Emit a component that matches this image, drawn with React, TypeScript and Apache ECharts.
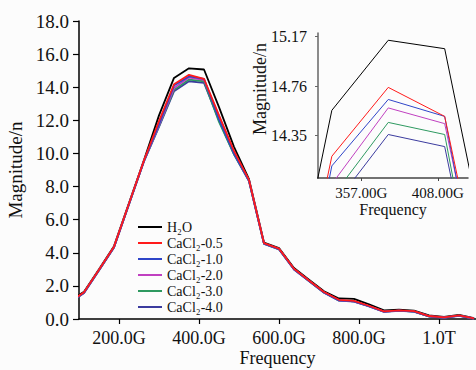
import React, { useEffect, useRef } from "react";
import * as echarts from "echarts";

// Frequency samples (GHz)
const FREQ = [75, 112.5, 150, 187.5, 225, 262.5, 300, 337.5, 375, 412.5, 450, 487.5, 525, 562.5, 600, 637.5, 675, 712.5, 750, 787.5, 825, 862.5, 900, 937.5, 975, 1012.5, 1050, 1087.5];

const H2O = [1.05, 1.65, 3.0, 4.4, 7.0, 9.6, 12.3, 14.56, 15.14, 15.07, 12.8, 10.4, 8.45, 4.62, 4.28, 3.08, 2.38, 1.68, 1.24, 1.22, 0.88, 0.52, 0.57, 0.5, 0.22, 0.12, 0.25, 0.06];
const CACL_05 = [1.0, 1.62, 2.98, 4.37, 6.98, 9.58, 11.95, 14.18, 14.75, 14.51, 12.3, 10.15, 8.4, 4.58, 4.25, 3.04, 2.33, 1.63, 1.16, 1.1, 0.8, 0.46, 0.52, 0.47, 0.18, 0.1, 0.22, 0.04];
const CACL_10 = [0.95, 1.58, 2.95, 4.33, 6.95, 9.55, 11.75, 14.1, 14.65, 14.51, 12.05, 10.0, 8.35, 4.55, 4.22, 3.0, 2.3, 1.6, 1.12, 1.06, 0.77, 0.44, 0.5, 0.45, 0.16, 0.08, 0.2, 0.03];
const CACL_20 = [0.96, 1.59, 2.96, 4.34, 6.95, 9.55, 11.7, 13.95, 14.58, 14.45, 12.25, 10.05, 8.36, 4.56, 4.23, 3.01, 2.31, 1.61, 1.13, 1.07, 0.78, 0.45, 0.51, 0.46, 0.17, 0.09, 0.21, 0.03];
const CACL_30 = [0.95, 1.58, 2.95, 4.33, 6.94, 9.54, 11.65, 13.84, 14.46, 14.36, 11.9, 9.95, 8.34, 4.55, 4.22, 3.0, 2.3, 1.6, 1.12, 1.06, 0.77, 0.44, 0.5, 0.45, 0.16, 0.08, 0.2, 0.03];
const CACL_40 = [0.94, 1.57, 2.94, 4.32, 6.93, 9.53, 11.6, 13.75, 14.36, 14.26, 12.0, 9.95, 8.33, 4.54, 4.21, 2.99, 2.29, 1.59, 1.11, 1.05, 0.76, 0.43, 0.49, 0.44, 0.15, 0.07, 0.19, 0.02];

const NAMES = ["H₂O", "CaCl₂-0.5", "CaCl₂-1.0", "CaCl₂-2.0", "CaCl₂-3.0", "CaCl₂-4.0"];
const VALUES = [H2O, CACL_05, CACL_10, CACL_20, CACL_30, CACL_40];
const COLORS = ["#000000", "#ff1a1a", "#2f45c8", "#c040c0", "#2e9960", "#3b3b9e"];
const ZORDER = [2, 8, 7, 6, 5, 4];

const X_TICKS = [200, 400, 600, 800, 1000];
const INSET_X_TICKS = [357, 408];
const INSET_Y_TICKS = [14.35, 14.76, 15.17];

const FONT = "'Liberation Serif', 'Times New Roman', Times, serif";

export default function App() {
  const ref = useRef<HTMLDivElement>(null);
  useEffect(() => {
    if (!ref.current) return;
    const chart = echarts.init(ref.current, null, { renderer: "svg" });
    const mk = (vals: number[]) => FREQ.map((f, i) => [f, vals[i]]);
    const mainSeries = NAMES.map((name, i) => ({
      name,
      type: "line",
      xAxisIndex: 0,
      yAxisIndex: 0,
      data: mk(VALUES[i]),
      symbol: "none",
      z: ZORDER[i],
      lineStyle: { color: COLORS[i], width: 1.8 },
      itemStyle: { color: COLORS[i] },
    }));
    const insetSeries = NAMES.map((name, i) => ({
      name,
      type: "line",
      xAxisIndex: 1,
      yAxisIndex: 1,
      data: mk(VALUES[i]),
      symbol: "none",
      clip: true,
      z: ZORDER[i],
      lineStyle: { color: COLORS[i], width: 1 },
      itemStyle: { color: COLORS[i] },
    }));
    const axisText = { fontFamily: FONT, color: "#111" };
    chart.setOption({
      animation: false,
      backgroundColor: "#fcfcfc",
      grid: [
        { left: 79, right: 0, top: 21, bottom: 51, containLabel: false, outerBoundsMode: "none" },
        { left: 318, right: 8, top: 33, bottom: 192, containLabel: false, outerBoundsMode: "none" },
      ],
      legend: {
        data: NAMES,
        orient: "vertical",
        left: 138,
        top: 220,
        icon: "rect",
        itemWidth: 24,
        itemHeight: 2,
        itemGap: 2,
        padding: 0,
        selectedMode: false,
        textStyle: { fontFamily: FONT, fontSize: 14, color: "#111" },
      },
      xAxis: [
        {
          type: "value",
          gridIndex: 0,
          min: 100,
          max: 1092.5,
          name: "Frequency",
          nameLocation: "middle",
          nameGap: 30,
          nameMoveOverlap: false,
          nameTextStyle: { ...axisText, fontSize: 18 },
          axisLine: { lineStyle: { color: "#000", width: 1.5 } },
          axisTick: { customValues: X_TICKS, length: 5, lineStyle: { color: "#000", width: 1.2 } },
          axisLabel: {
            customValues: X_TICKS,
            margin: 10,
            ...axisText,
            fontSize: 18,
            formatter: (v: number) => (v >= 1000 ? (v / 1000).toFixed(1) + "T" : v.toFixed(1) + "G"),
          },
          splitLine: { show: false },
        },
        {
          type: "value",
          gridIndex: 1,
          min: 328.3,
          max: 428,
          name: "Frequency",
          nameLocation: "middle",
          nameGap: 23,
          nameTextStyle: { ...axisText, fontSize: 16 },
          axisLine: { lineStyle: { color: "#444", width: 1.5 } },
          axisTick: { customValues: INSET_X_TICKS, length: 3, lineStyle: { color: "#444" } },
          axisLabel: {
            customValues: INSET_X_TICKS,
            margin: 7,
            ...axisText,
            fontSize: 15,
            formatter: (v: number) => v.toFixed(2) + "G",
          },
          splitLine: { show: false },
        },
      ],
      yAxis: [
        {
          type: "value",
          gridIndex: 0,
          min: 0,
          max: 18,
          interval: 2,
          name: "Magnitude/n",
          nameLocation: "middle",
          nameGap: 53,
          nameTextStyle: { ...axisText, fontSize: 19 },
          axisLine: { show: true, lineStyle: { color: "#000", width: 1.5 } },
          axisTick: { show: true, length: 6, lineStyle: { color: "#000", width: 1.2 } },
          axisLabel: { margin: 10, ...axisText, fontSize: 19, formatter: (v: number) => v.toFixed(1) },
          splitLine: { show: false },
        },
        {
          type: "value",
          gridIndex: 1,
          min: 14.0,
          max: 15.2,
          axisLine: { show: true, lineStyle: { color: "#666", width: 1.5 } },
          axisTick: { show: true, customValues: INSET_Y_TICKS, length: 3, lineStyle: { color: "#666" } },
          axisLabel: {
            customValues: INSET_Y_TICKS,
            margin: 11,
            ...axisText,
            fontSize: 16,
            formatter: (v: number) => v.toFixed(2),
          },
          splitLine: { show: false },
        },
      ],
      graphic: [
        {
          type: "text",
          x: 260,
          y: 89,
          rotation: Math.PI / 2,
          style: {
            text: "Magnitude/n",
            fontFamily: FONT,
            fontSize: 18,
            fill: "#111",
            align: "center",
            verticalAlign: "middle",
          },
        },
      ],
      series: [...mainSeries, ...insetSeries],
    });
    return () => chart.dispose();
  }, []);
  return (
    <div
      ref={ref}
      style={{ position: "fixed", left: 0, top: 0, width: 476, height: 370 }}
    />
  );
}
